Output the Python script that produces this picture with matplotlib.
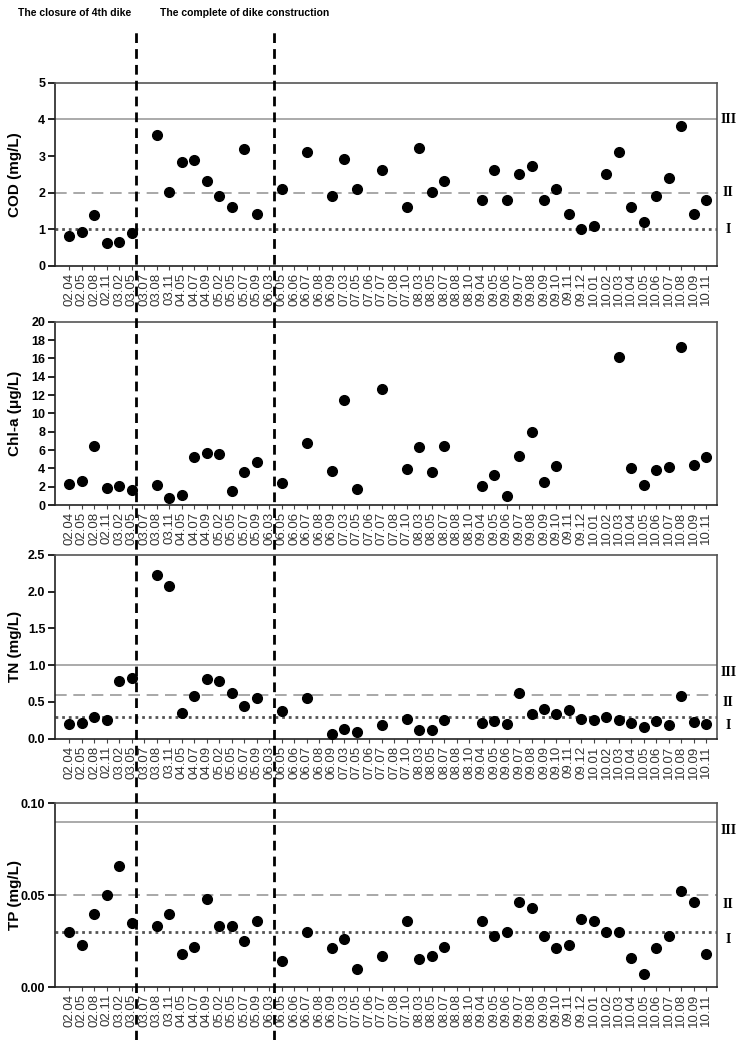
import numpy as np
import matplotlib
matplotlib.use("Agg")
import matplotlib.pyplot as plt

nan = np.nan

# sampling dates (yy.mm)
dates = ["02.04", "02.05", "02.08", "02.11", "03.02", "03.05", "03.07", "03.08",
         "03.11", "04.05", "04.07", "04.09", "05.02", "05.05", "05.07", "05.09",
         "06.03", "06.05", "06.06", "06.07", "06.08", "06.09", "07.03", "07.05",
         "07.06", "07.07", "07.08", "07.10", "08.03", "08.05", "08.07", "08.08",
         "08.10", "09.04", "09.05", "09.06", "09.07", "09.08", "09.09", "09.10",
         "09.11", "09.12", "10.01", "10.02", "10.03", "10.04", "10.05", "10.06",
         "10.07", "10.08", "10.09", "10.11"]

cod = [0.83, 0.93, 1.38, 0.62, 0.65, 0.91, nan, 3.58,
       2.01, 2.85, 2.89, 2.32, 1.91, 1.61, 3.19, 1.41,
       nan, 2.11, nan, 3.11, nan, 1.91, 2.91, 2.11,
       nan, 2.62, nan, 1.61, 3.21, 2.01, 2.32, nan,
       nan, 1.81, 2.62, 1.81, 2.51, 2.74, 1.81, 2.11,
       1.41, 1.00, 1.10, 2.51, 3.11, 1.61, 1.21, 1.91,
       2.41, 3.81, 1.41, 1.81]

chla = [2.3, 2.6, 6.4, 1.9, 2.1, 1.6, nan, 2.2,
        0.8, 1.1, 5.2, 5.7, 5.6, 1.5, 3.6, 4.7,
        nan, 2.4, nan, 6.8, nan, 3.7, 11.5, 1.8,
        nan, 12.7, nan, 3.9, 6.3, 3.6, 6.4, nan,
        nan, 2.1, 3.3, 1.0, 5.3, 8.0, 2.5, 4.3,
        nan, nan, nan, nan, 16.1, 4.0, 2.2, 3.8,
        4.1, 17.2, 4.4, 5.2]

tn = [0.20, 0.21, 0.30, 0.25, 0.79, 0.82, nan, 2.23,
      2.07, 0.35, 0.58, 0.81, 0.79, 0.62, 0.45, 0.55,
      nan, 0.37, nan, 0.55, nan, 0.06, 0.13, 0.09,
      nan, 0.19, nan, 0.27, 0.12, 0.12, 0.26, nan,
      nan, 0.22, 0.24, 0.20, 0.62, 0.33, 0.41, 0.33,
      0.39, 0.27, 0.25, 0.29, 0.25, 0.21, 0.16, 0.24,
      0.19, 0.58, 0.23, 0.20]

tp = [0.030, 0.023, 0.040, 0.050, 0.066, 0.035, nan, 0.033,
      0.040, 0.018, 0.022, 0.048, 0.033, 0.033, 0.025, 0.036,
      nan, 0.014, nan, 0.030, nan, 0.021, 0.026, 0.010,
      nan, 0.017, nan, 0.036, 0.015, 0.017, 0.022, nan,
      nan, 0.036, 0.028, 0.030, 0.046, 0.043, 0.028, 0.021,
      0.023, 0.037, 0.036, 0.030, 0.030, 0.016, 0.007, 0.021,
      0.028, 0.052, 0.046, 0.018]

# water quality standards (grade I, II, III)
grades = ["I", "II", "III"]
cod_std = [1, 2, 4]
tn_std = [0.3, 0.6, 1.0]
tp_std = [0.03, 0.05, 0.09]

# dike events, placed between sampling dates
events = ["The closure of 4th dike", "The complete of dike construction"]
event_x = [5.35, 16.4]

plt.rcParams["font.family"] = ["Liberation Sans", "DejaVu Sans"]

fig = plt.figure(figsize=(7.53, 10.40), dpi=100)
W, H = 753.0, 1040.0
left, width = 55 / W, 662 / W
xlim = (-1.15, 51.85)
x = np.arange(len(dates))

panels = [
    # (values, ylabel, ylim, yticks, fmt, standards, grade label y, top px, bottom px)
    (cod, "COD (mg/L)", (0, 5), np.arange(0, 6, 1), "{:.0f}", cod_std, [1, 2, 4], 82.7, 266),
    (chla, "Chl-a (\u03bcg/L)", (0, 20), np.arange(0, 21, 2), "{:.0f}", None, None, 321.7, 505),
    (tn, "TN (mg/L)", (0, 2.5), np.arange(0, 2.6, 0.5), "{:.1f}", tn_std, [0.18, 0.49, 0.90], 554.7, 738.7),
    (tp, "TP (mg/L)", (0, 0.1), [0, 0.05, 0.10], "{:.2f}", tp_std, [0.0256, 0.045, 0.085], 803.3, 987),
]

std_styles = [
    dict(color="#555555", lw=2.0, ls=(0, (1, 1.4))),
    dict(color="#9a9a9a", lw=1.2, ls=(0, (7, 4))),
    dict(color="#aaaaaa", lw=1.4, ls="-"),
]

for vals, ylab, ylim, yt, fmt, std, laby, top, bot in panels:
    ax = fig.add_axes([left, 1 - bot / H, width, (bot - top) / H])
    ax.set_xlim(*xlim)
    ax.set_ylim(*ylim)

    if std is not None:
        for s, st, g, ly in zip(std, std_styles, grades, laby):
            ax.axhline(s, zorder=1, **st)
            ax.text(1.017, ly, g, transform=ax.get_yaxis_transform(),
                    ha="center", va="center", fontsize=10, fontweight="bold",
                    family=["Liberation Serif", "DejaVu Serif"])

    ax.plot(x, vals, "o", color="black", markersize=7, zorder=3)

    ax.set_xticks(x)
    ax.set_xticklabels(dates, rotation=90, fontsize=9.5, color="#333333")
    ax.set_yticks(yt)
    ax.set_yticklabels([fmt.format(v) for v in yt], fontsize=9, fontweight="bold")
    ax.tick_params(axis="x", length=3, pad=2, color="#444444")
    ax.tick_params(axis="y", length=5, width=1.2, pad=2)
    ax.set_ylabel(ylab, fontsize=11, fontweight="bold")
    ax.yaxis.set_label_coords(-0.050, 0.5)
    for side in ["left", "bottom"]:
        ax.spines[side].set_color("#222222")
        ax.spines[side].set_linewidth(1.2)
    for side in ["top", "right"]:
        ax.spines[side].set_color("#555555")
        ax.spines[side].set_linewidth(1.2)

# overlay axes for the dike event lines running through all panels
ov = fig.add_axes([left, 0, width, 1 - 32 / H])
ov.set_xlim(*xlim)
ov.set_ylim(0, 1)
ov.axis("off")
ov.patch.set_alpha(0)
for ex in event_x:
    ov.axvline(ex, color="black", lw=2, ls=(0, (3.5, 2.2)))

for xpx, label in zip([18, 160], events):
    fig.text(xpx / W, 1 - 13 / H, label, ha="left", va="center", fontsize=7.5,
             fontweight="bold")

fig.savefig("out.png", dpi=100)
